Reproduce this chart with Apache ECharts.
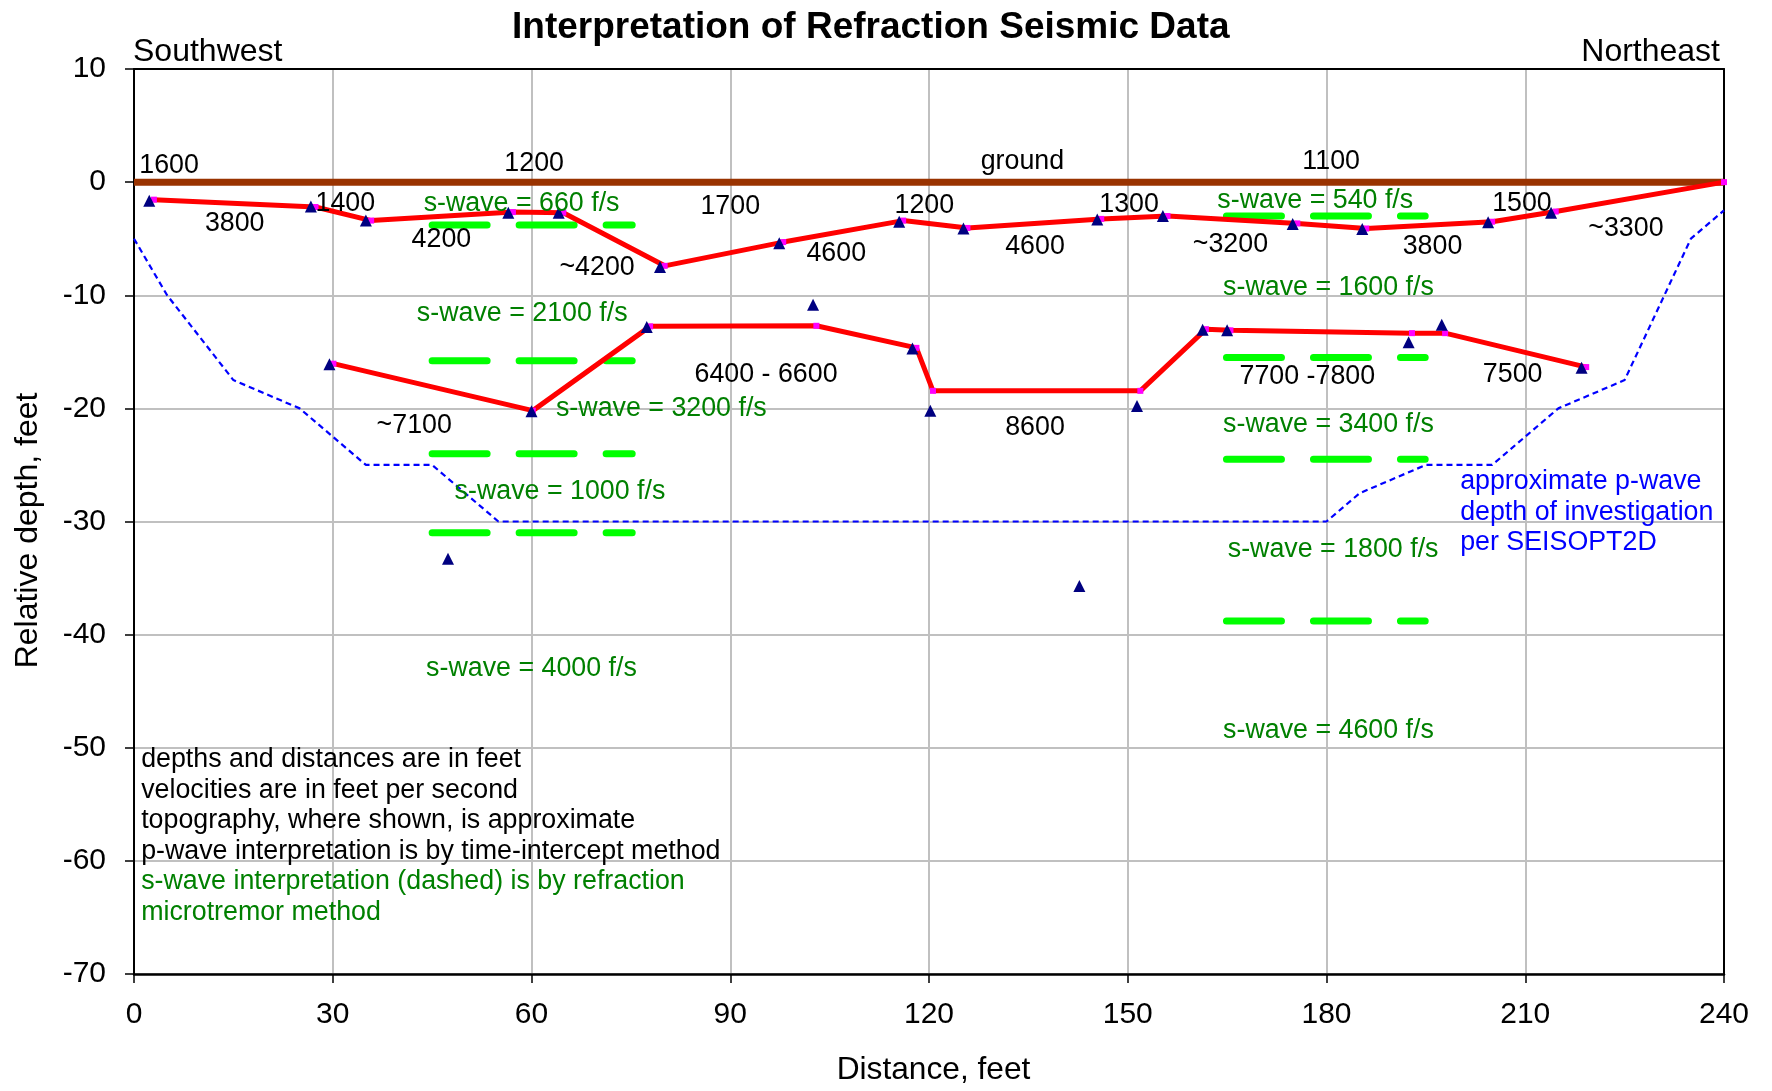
<!DOCTYPE html>
<html>
<head>
<meta charset="utf-8">
<script src="https://cdn.jsdelivr.net/npm/echarts@6/dist/echarts.min.js"></script>
<style>
  html, body { margin: 0; padding: 0; background: #ffffff; }
  #chart { width: 1772px; height: 1091px; }
</style>
</head>
<body>
<div id="chart"></div>
<script>
// ---- profile data (distance ft, relative depth ft) ----
const groundSurface = [[0, 0], [240, 0]];

const upperRefractor = [
  [3.0, -1.55], [27.4, -2.2], [35.8, -3.4], [57.2, -2.65], [64.8, -2.7],
  [80.1, -7.4], [98.0, -5.3], [116.1, -3.4], [125.8, -4.05], [146.0, -3.25],
  [156.0, -3.0], [175.6, -3.65], [186.0, -4.1], [205.0, -3.5], [214.6, -2.6],
  [240.0, 0]
];

const lowerRefractor = [
  [30.1, -16.05], [60.2, -20.2], [77.9, -12.75], [103.0, -12.7], [118.1, -14.65],
  [120.6, -18.45], [151.9, -18.45], [161.8, -13.0], [165.5, -13.1], [192.9, -13.35],
  [197.9, -13.35], [219.2, -16.35]
];

const depthPicks = [
  [2.3, -1.65], [26.7, -2.15], [35.0, -3.4], [56.5, -2.7], [64.1, -2.7],
  [79.4, -7.5], [97.4, -5.4], [115.5, -3.5], [125.2, -4.1], [145.4, -3.3],
  [155.3, -3.0], [174.9, -3.7], [185.4, -4.15], [204.4, -3.55], [213.9, -2.7],
  [29.5, -16.1], [60.0, -20.25], [77.4, -12.8], [102.5, -10.85], [117.5, -14.7],
  [120.2, -20.2], [151.4, -19.8], [161.3, -13.05], [165.0, -13.1], [192.4, -14.15],
  [197.4, -12.6], [218.5, -16.4], [47.4, -33.3], [142.7, -35.7]
];

const investigationDepth = [
  [0, -5], [5, -10], [15, -17.5], [25, -20], [35, -25], [45, -25], [55, -30],
  [180, -30], [185, -27.5], [195, -25], [205, -25], [215, -20], [225, -17.5],
  [235, -5], [240, -2.5]
];

// s-wave layer boundaries (dashed): horizontal extent and depths
const sWaveWestX = [45.0, 75.2];
const sWaveWestDepths = [-3.8, -15.8, -24.0, -31.0];
const sWaveEastX = [164.9, 194.9];
const sWaveEastDepths = [-3.0, -15.5, -24.5, -38.8];

// velocity annotations: [distance, depth, text]
const pWaveLabels = [
  [5.3, 1.5, '1600'], [60.4, 1.65, '1200'], [134.1, 1.8, 'ground'], [180.7, 1.8, '1100'],
  [15.2, -3.7, '3800'], [31.9, -1.9, '1400'], [46.4, -5.1, '4200'], [69.9, -7.6, '~4200'],
  [90.0, -2.2, '1700'], [106.0, -6.3, '4600'], [119.3, -2.1, '1200'], [136.0, -5.7, '4600'],
  [150.2, -2.0, '1300'], [165.5, -5.5, '~3200'], [196.0, -5.7, '3800'], [209.5, -1.9, '1500'],
  [225.2, -4.1, '~3300'], [95.4, -17.0, '6400 - 6600'], [42.3, -21.5, '~7100'],
  [136.0, -21.7, '8600'], [177.1, -17.2, '7700 -7800'], [208.1, -17.0, '7500']
];

const sWaveLabels = [
  [58.5, -1.9, 's-wave = 660 f/s'], [58.6, -11.6, 's-wave = 2100 f/s'],
  [79.6, -20.0, 's-wave = 3200 f/s'], [64.3, -27.4, 's-wave = 1000 f/s'],
  [60.0, -43.0, 's-wave = 4000 f/s'], [178.3, -1.6, 's-wave = 540 f/s'],
  [180.3, -9.3, 's-wave = 1600 f/s'], [180.3, -21.4, 's-wave = 3400 f/s'],
  [181.0, -32.5, 's-wave = 1800 f/s'], [180.3, -48.5, 's-wave = 4600 f/s']
];

const depthNote = [[200.1, -29.2, 'approximate p-wave\ndepth of investigation\nper SEISOPT2D']];
const methodNotes = [[1.0, -55.1, 'depths and distances are in feet\nvelocities are in feet per second\ntopography, where shown, is approximate\np-wave interpretation is by time-intercept method']];
const sMethodNotes = [[1.0, -63.2, 's-wave interpretation (dashed) is by refraction\nmicrotremor method']];

const xRange = [0, 240], xStep = 30;
const yRange = [-70, 10], yStep = 10;

// ---- chart ----
const FONT = "'Liberation Sans', Arial, Helvetica, sans-serif";
const TEXT_SIZE = 26.8;
const chart = echarts.init(document.getElementById('chart'), null, { renderer: 'canvas' });

function textSeries(name, data, color, opts) {
  opts = opts || {};
  return {
    name: name, type: 'scatter', data: data, symbolSize: 1, z: 6, silent: true,
    itemStyle: { color: 'rgba(0,0,0,0)', opacity: 1 },
    label: {
      show: true,
      position: opts.position || 'inside',
      distance: 0,
      formatter: p => p.data[2],
      color: color,
      opacity: 1,
      fontFamily: FONT,
      fontSize: TEXT_SIZE,
      lineHeight: opts.lineHeight || 30.5,
      align: opts.align,
    }
  };
}

function sWaveSeries(xs, depths) {
  return depths.map(d => ({
    type: 'line', data: [[xs[0], d], [xs[1], d]], symbol: 'none', z: 3, silent: true,
    lineStyle: { color: '#00FF00', width: 7, type: [55, 32], cap: 'round' }
  }));
}

const axisLabelStyle = { fontFamily: FONT, fontSize: 30, color: '#000' };

chart.setOption({
  animation: false,
  backgroundColor: '#ffffff',
  title: [
    { text: 'Interpretation of Refraction Seismic Data', left: 507, top: 4,
      textStyle: { fontFamily: FONT, fontSize: 37, fontWeight: 'bold', color: '#000' } },
    { text: 'Southwest', left: 128, top: 31,
      textStyle: { fontFamily: FONT, fontSize: 32, fontWeight: 'normal', color: '#000' } },
    { text: 'Northeast', right: 47, top: 31,
      textStyle: { fontFamily: FONT, fontSize: 32, fontWeight: 'normal', color: '#000' } }
  ],
  grid: { left: 134, right: 48, top: 69, bottom: 115, containLabel: false },
  xAxis: [
    {
      type: 'value', min: xRange[0], max: xRange[1], interval: xStep,
      name: 'Distance, feet', nameLocation: 'middle', nameGap: 80,
      nameTextStyle: { fontFamily: FONT, fontSize: 31.7, color: '#000', padding: [0, 0, 0, 9] },
      axisLine: { show: true, onZero: false, lineStyle: { color: '#000', width: 2.5 } },
      axisTick: { show: true, length: 9, lineStyle: { color: '#000', width: 1.5 } },
      axisLabel: Object.assign({ margin: 26 }, axisLabelStyle),
      splitLine: { show: true, lineStyle: { color: '#C0C0C0', width: 2 } }
    },
    {
      type: 'value', min: xRange[0], max: xRange[1], position: 'top',
      axisLine: { show: true, onZero: false, lineStyle: { color: '#000', width: 2 } },
      axisTick: { show: false }, axisLabel: { show: false }, splitLine: { show: false }
    }
  ],
  yAxis: [
    {
      type: 'value', min: yRange[0], max: yRange[1], interval: yStep,
      name: 'Relative depth, feet', nameLocation: 'middle', nameGap: 90,
      nameTextStyle: { fontFamily: FONT, fontSize: 32, color: '#000', padding: [0, 18, 0, 0] },
      axisLine: { show: true, onZero: false, lineStyle: { color: '#000', width: 2 } },
      axisTick: { show: true, length: 9, lineStyle: { color: '#000', width: 1.5 } },
      axisLabel: Object.assign({ margin: 28 }, axisLabelStyle),
      splitLine: { show: true, lineStyle: { color: '#C0C0C0', width: 2 } }
    },
    {
      type: 'value', min: yRange[0], max: yRange[1], position: 'right',
      axisLine: { show: true, onZero: false, lineStyle: { color: '#000', width: 2 } },
      axisTick: { show: false }, axisLabel: { show: false }, splitLine: { show: false }
    }
  ],
  series: [
    {
      name: 'ground', type: 'line', data: groundSurface, symbol: 'none', z: 2, silent: true,
      lineStyle: { color: '#993300', width: 7 }
    },
    {
      name: 'investigation depth', type: 'line', data: investigationDepth, symbol: 'none', z: 2, silent: true,
      lineStyle: { color: '#0000FF', width: 2.2, type: [6, 4] }
    },
    ...sWaveSeries(sWaveWestX, sWaveWestDepths),
    ...sWaveSeries(sWaveEastX, sWaveEastDepths),
    {
      name: 'upper refractor', type: 'line', data: upperRefractor, z: 4, silent: true,
      symbol: 'rect', symbolSize: 6, showSymbol: true,
      itemStyle: { color: '#FF00FF' },
      lineStyle: { color: '#FF0000', width: 5 }
    },
    {
      name: 'lower refractor', type: 'line', data: lowerRefractor, z: 4, silent: true,
      symbol: 'rect', symbolSize: 6, showSymbol: true,
      itemStyle: { color: '#FF00FF' },
      lineStyle: { color: '#FF0000', width: 5 }
    },
    {
      name: 'depth picks', type: 'scatter', data: depthPicks, z: 5, silent: true,
      symbol: 'triangle', symbolSize: 12, itemStyle: { color: '#000080', opacity: 1 }
    },
    textSeries('p-wave velocities', pWaveLabels, '#000000'),
    textSeries('s-wave velocities', sWaveLabels, '#008000'),
    textSeries('depth note', depthNote, '#0000FF', { position: 'right', align: 'left' }),
    textSeries('notes', methodNotes, '#000000', { position: 'right', align: 'left' }),
    textSeries('s notes', sMethodNotes, '#008000', { position: 'right', align: 'left' })
  ]
});
</script>
</body>
</html>
